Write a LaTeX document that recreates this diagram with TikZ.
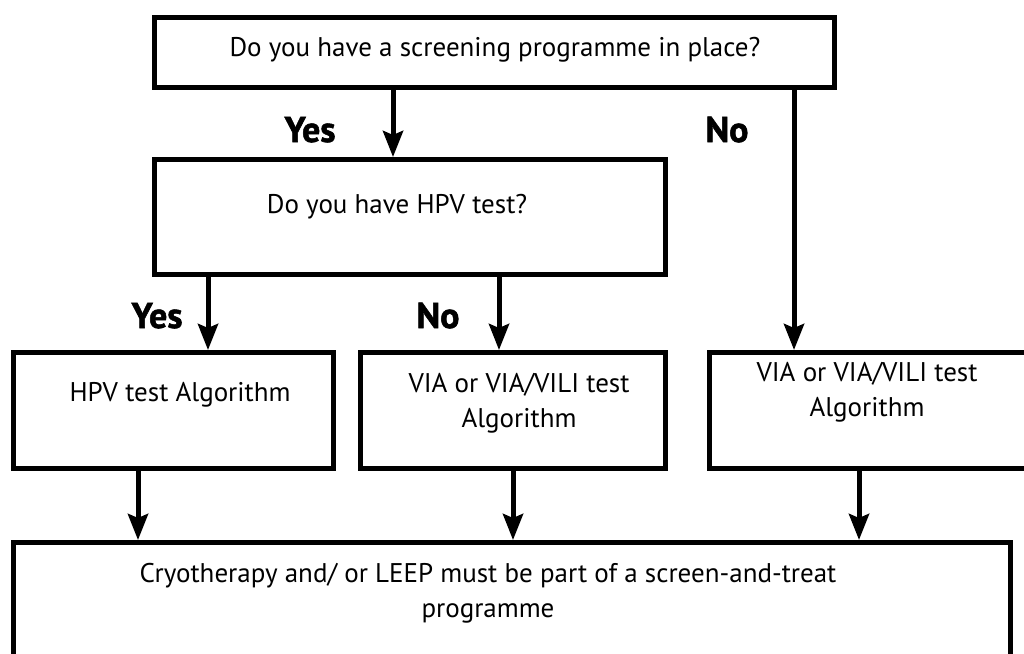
\documentclass[tikz,border=0pt]{standalone}
\usepackage{fontspec}
\setmainfont{PT Sans}
\usetikzlibrary{arrows.meta}
\begin{document}
\begin{tikzpicture}[x=1pt,y=-1pt,
  box/.style={draw,line width=5pt,inner sep=0pt,rectangle},
  txt/.style={font=\fontsize{27}{34.5}\selectfont,align=center,inner sep=0pt,anchor=base},
  lbl/.style={font=\fontsize{36}{36}\selectfont\bfseries\addfontfeature{FakeBold=1.5},inner sep=0pt,anchor=base},
  arr/.style={line width=5pt,-{Stealth[length=26pt,width=20pt,inset=4pt]}}]
\useasboundingbox[fill=white] (0,0) rectangle (1024,653);
% boxes
\node[box,minimum width=680pt,minimum height=70pt] (top) at (494.5,52.5) {};
\node[box,minimum width=511pt,minimum height=115pt] (hpv) at (410,217) {};
\node[box,minimum width=320pt,minimum height=116pt] (b1) at (173.5,410.5) {};
\node[box,minimum width=305pt,minimum height=116pt] (b2) at (513,410.5) {};
\node[box,minimum width=318pt,minimum height=116pt] (b3) at (868.5,410.5) {};
\node[box,minimum width=997pt,minimum height=155pt] (bot) at (512,620) {};
% texts (base anchor = baseline of the last line)
\node[txt] (t0) at (495,56) {Do you have a screening programme in place?};
\node[txt] (t1) at (397,213) {Do you have HPV test?};
\node[txt] (t2) at (180,401) {HPV test Algorithm};
\node[txt] (t3) at (519,427) {VIA or VIA/VILI test\\Algorithm};
\node[txt] (t4) at (867,416) {VIA or VIA/VILI test\\Algorithm};
\node[txt] (t5) at (488,617) {Cryotherapy and/ or LEEP must be part of a screen-and-treat\\programme};
% labels
\node[lbl] (y1) at (310,142) {Yes};
\node[lbl] (n1) at (727,142) {No};
\node[lbl] (y2) at (157,328) {Yes};
\node[lbl] (n2) at (438,328) {No};
% connector x positions
\coordinate (cA) at (393,0);
\coordinate (cB) at (794,0);
\coordinate (cC) at (208,0);
\coordinate (cD) at (499,0);
\coordinate (cE) at (138,0);
\coordinate (cF) at (513,0);
\coordinate (cG) at (859,0);
% connectors
\draw[arr] (top.south -| cA) -- (hpv.north -| cA);
\draw[arr] (top.south -| cB) -- (b3.north -| cB);
\draw[arr] (hpv.south -| cC) -- (b1.north -| cC);
\draw[arr] (hpv.south -| cD) -- (b2.north -| cD);
\draw[arr] (b1.south -| cE) -- (bot.north -| cE);
\draw[arr] (b2.south -| cF) -- (bot.north -| cF);
\draw[arr] (b3.south -| cG) -- (bot.north -| cG);
\end{tikzpicture}
\end{document}
